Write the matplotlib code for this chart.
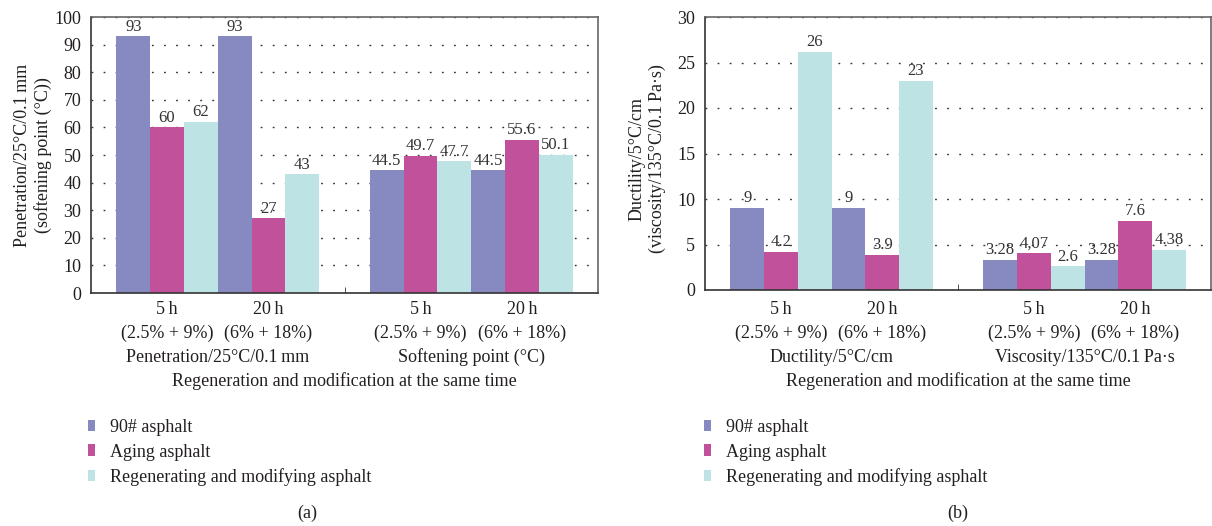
import matplotlib
matplotlib.use("Agg")
import matplotlib.pyplot as plt
from matplotlib.patches import Patch
import numpy as np

plt.rcParams['font.family'] = ['Liberation Serif', 'DejaVu Serif']

# ---------------- data ----------------
series = ["90# asphalt", "Aging asphalt", "Regenerating and modifying asphalt"]
subgroups = ["5\u2009h\n(2.5% + 9%)", "20\u2009h\n(6% + 18%)"]

cats_a = ["Penetration/25°C/0.1\u2009mm", "Softening point (°C)"]
vals_a_base = [93, 93, 44.5, 44.5]
vals_a_aging = [60, 27, 49.7, 55.6]
vals_a_regen = [62, 43, 47.7, 50.1]
lab_a_base = ["93", "93", "44.5", "44.5"]
lab_a_aging = ["60", "27", "49.7", "55.6"]
lab_a_regen = ["62", "43", "47.7", "50.1"]

cats_b = ["Ductility/5°C/cm", "Viscosity/135°C/0.1\u2009Pa·s"]
vals_b_base = [9, 9, 3.28, 3.28]
vals_b_aging = [4.2, 3.9, 4.07, 7.6]
vals_b_regen = [26.2, 23, 2.6, 4.38]
lab_b_base = ["9", "9", "3.28", "3.28"]
lab_b_aging = ["4.2", "3.9", "4,07", "7.6"]
lab_b_regen = ["26", "23", "2.6", "4.38"]

colors = ["#8789C1", "#C2519C", "#BEE3E4"]
TXT = "#231F20"
FS = 13

W, H = 1212, 526
fig = plt.figure(figsize=(W / 100, H / 100), dpi=100)


def px_axes(l, r, b, t):
    return fig.add_axes([l / W, 1 - b / H, (r - l) / W, (b - t) / H])


def panel(ax, base, aging, regen, lb, la, lr, ymax, ystep, cats, ylabel, xl, xr, yb,
          ylx, yly):
    bw = 0.8 / 6
    starts = [0.1, 0.1 + 3 * bw, 1.1, 1.1 + 3 * bw]
    for si, (vals, labs) in enumerate(zip([base, aging, regen], [lb, la, lr])):
        xs = np.array(starts) + (si + 0.5) * bw
        ax.bar(xs, vals, width=bw, color=colors[si], linewidth=0, zorder=2)
        for x, v, t in zip(xs, vals, labs):
            ax.annotate(t, (x, v), xytext=(0, 1.2), textcoords="offset points",
                        ha="center", va="bottom", fontsize=12, color="#333333", zorder=3)
    ax.set_xlim(0, 2)
    ax.set_ylim(0, ymax)
    ax.set_yticks(np.arange(0, ymax + 0.1, ystep))
    ax.yaxis.grid(True, linestyle=(0, (1.3, 7.4)), color="#333333", linewidth=1.0, zorder=1)
    ax.set_axisbelow(True)
    ax.set_xticks([])
    ax.set_xticks([1], minor=True)
    ax.tick_params(axis='x', which='minor', length=4, direction='in', color="#333333",
                   labelbottom=False)
    ax.tick_params(axis='y', length=0, pad=7, labelsize=FS, labelcolor=TXT)
    for s in ["top", "right"]:
        ax.spines[s].set_color("#666666")
        ax.spines[s].set_linewidth(1.2)
    for s in ["left", "bottom"]:
        ax.spines[s].set_color("#333333")
        ax.spines[s].set_linewidth(1.2)
    fig.text(ylx / W, 1 - yly / H, ylabel, rotation=90, ha="center", va="center",
             fontsize=FS, color=TXT, linespacing=1.25, multialignment="center")
    pw = (xr - xl) / 2.0
    for si, st in enumerate(starts):
        cxp = xl + (st + 1.5 * bw) * pw
        line1, line2 = subgroups[si % 2].split("\n")
        fig.text(cxp / W, 1 - 310 / H, line1, ha="center", va="center",
                 fontsize=FS, color=TXT)
        fig.text(cxp / W, 1 - 333 / H, line2, ha="center", va="center",
                 fontsize=FS, color=TXT)
    for ci, c in enumerate(cats):
        fig.text((xl + (ci + 0.5) * pw) / W, 1 - 357 / H, c, ha="center", va="center",
                 fontsize=FS, color=TXT)
    mid = (xl + xr) / 2
    fig.text(mid / W, 1 - 381 / H, "Regeneration and modification at the same time",
             ha="center", va="center", fontsize=FS, color=TXT)


ax1 = px_axes(91, 598, 293, 17)
panel(ax1, vals_a_base, vals_a_aging, vals_a_regen, lab_a_base, lab_a_aging, lab_a_regen,
      100, 10, cats_a, "Penetration/25°C/0.1\u2009mm\n(softening point (°C))", 91, 598, 293,
      33, 155)

ax2 = px_axes(705, 1211, 290, 17)
panel(ax2, vals_b_base, vals_b_aging, vals_b_regen, lab_b_base, lab_b_aging, lab_b_regen,
      30, 5, cats_b, "Ductility/5°C/cm\n(viscosity/135°C/0.1\u2009Pa·s)", 705, 1211, 290,
      647, 159)

handles = [Patch(facecolor=c, edgecolor="none") for c in colors]
for lx, tag, cx in [(88, "(a)", 307), (704, "(b)", 958)]:
    fig.legend(handles, series, loc="upper left", bbox_to_anchor=(lx / W, 1 - 419 / H),
               frameon=False, fontsize=FS, handlelength=0.4, handleheight=0.6,
               handletextpad=0.8, labelspacing=0.42, borderaxespad=0, borderpad=0,
               labelcolor=TXT)
    fig.text(cx / W, 1 - 513 / H, tag, ha="center", va="center", fontsize=FS, color=TXT)

fig.savefig("out.png", dpi=100)
